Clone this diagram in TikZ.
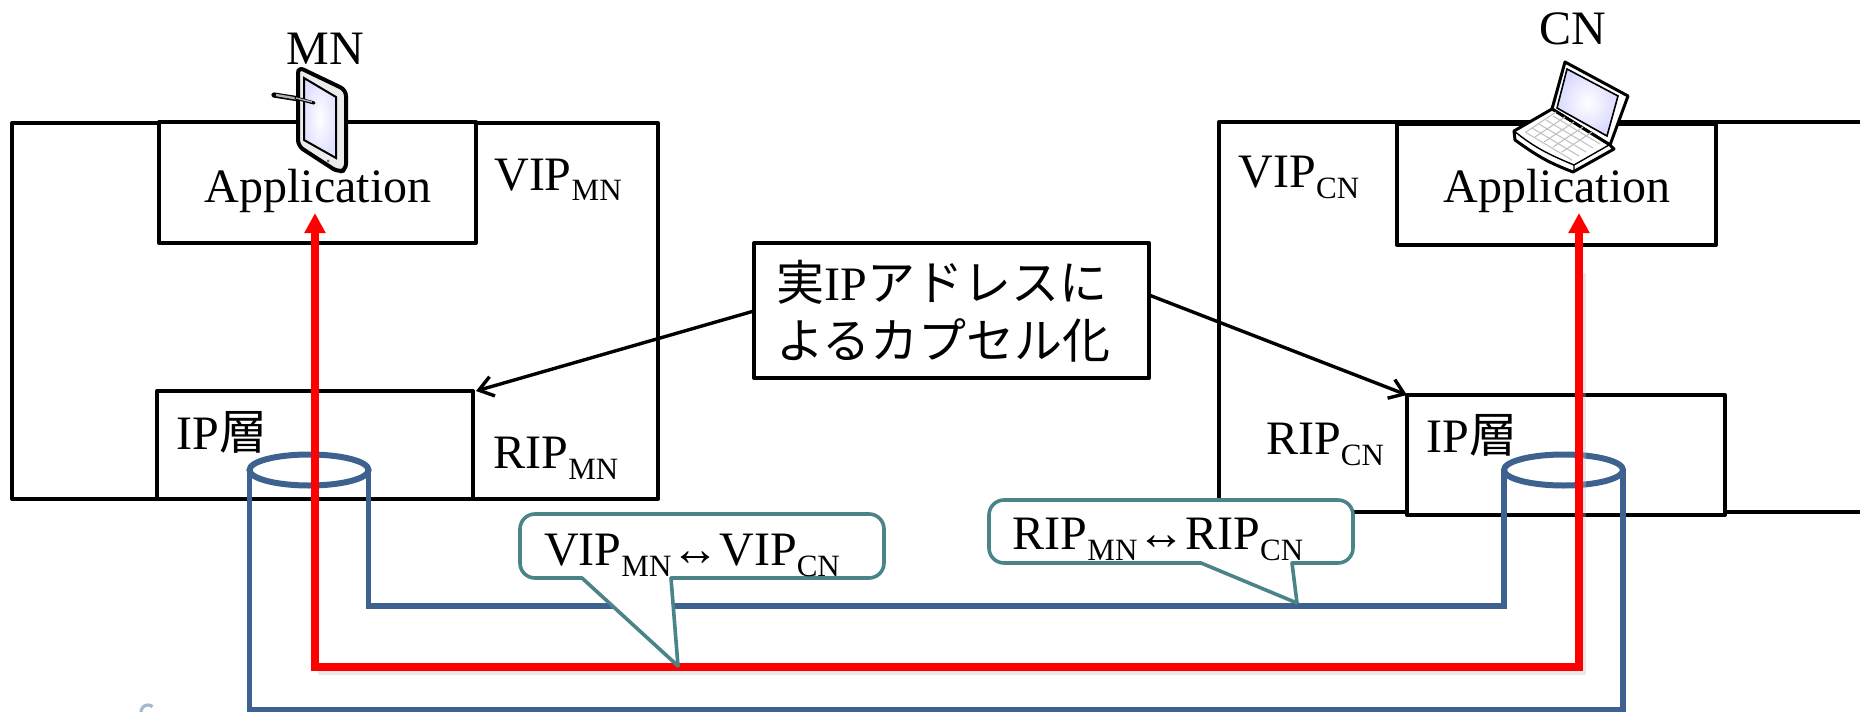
\documentclass[tikz,border=0pt]{standalone}
\usepackage{fontspec}
\setmainfont{Liberation Serif}
\newfontfamily\jp{Noto Sans CJK JP}
\usetikzlibrary{shapes.geometric,arrows.meta,calc}
\definecolor{tunnel}{HTML}{3E6290}
\definecolor{callteal}{HTML}{4A8488}
\tikzset{
  every node/.style={font=\fontsize{24}{28}\selectfont},
  blk/.style={draw=black,line width=2pt,fill=white,inner sep=0pt,outer sep=0pt,line join=round},
  lbl/.style={inner sep=0pt,anchor=base},
  redline/.style={draw=red,line width=3.7pt,line join=miter},
  shadowline/.style={draw=black!25,line width=3pt,opacity=.35},
  blueline/.style={draw=tunnel,line width=2.7pt},
  bluerim/.style={draw=tunnel,line width=3pt,ellipse,inner sep=0pt,outer sep=0pt,minimum width=59.5pt,minimum height=15.5pt},
  callout/.style={draw=callteal,line width=1.8pt,fill=white,line join=round},
  pointer/.style={draw=black,line width=1.7pt,-{Straight Barb[length=7pt,width=10pt,line width=1.7pt]}},
}
\newcommand{\subl}[1]{\raisebox{-5.5pt}{\fontsize{15.5}{16}\selectfont #1}}
\begin{document}
\begin{tikzpicture}[x=0.5pt,y=-0.5pt]
\useasboundingbox (0,0) rectangle (1860,712);
% outer boxes
\node[blk,anchor=north west,minimum width=323pt,minimum height=188pt] (outerL) at (12,123) {};
\coordinate (outerRa) at (1860,122);
\coordinate (outerRb) at (1219,122);
\coordinate (outerRc) at (1219,512);
\coordinate (outerRd) at (1860,512);
\draw[draw=black,line width=2pt,line join=round] (outerRa) -- (outerRb) -- (outerRc) -- (outerRd);
% inner boxes
\node[blk,anchor=north west,minimum width=158.5pt,minimum height=60.5pt] (appL) at (159,122) {};
\node[blk,anchor=north west,minimum width=158pt,minimum height=54pt] (ipL) at (157,391) {};
\node[blk,anchor=north west,minimum width=159.5pt,minimum height=60.5pt] (appR) at (1397,124) {};
\node[blk,anchor=north west,minimum width=159pt,minimum height=60pt] (ipR) at (1407,395) {};
% labels
\node[lbl] (tMN) at (325,64) {MN};
\node[lbl] (tCN) at (1573,45) {CN};
\node[lbl] (tAppL) at (318,202) {Application};
\node[lbl] (tAppR) at (1557,202) {Application};
\node[lbl] (tVL) at (558,190) {VIP\subl{MN}};
\node[lbl] (tVR) at (1299,187) {VIP\subl{CN}};
\node[lbl] (tRL) at (556,468) {RIP\subl{MN}};
\node[lbl] (tRR) at (1325,454) {RIP\subl{CN}};
\node[lbl] (tIL) at (222,449) {IP{\jp 層}};
\node[lbl] (tIR) at (1472,452) {IP{\jp 層}};
% tablet icon
\draw[black,line width=2.6pt,line cap=round] (274,95) -- (299,99);
\draw[gray!60,line width=1.2pt] (276,95) -- (299,99);
\draw[black,line width=2pt,fill=gray!15,rounded corners=3pt,line join=round] (298,67) -- (346,90) -- (346,170) -- (338,172) -- (298,146) -- cycle;
\shade[inner color=white,outer color=blue!12!white] (304,78) -- (336,97) -- (336,158) -- (304,140) -- cycle;
\draw[black,line width=1pt] (304,78) -- (336,97) -- (336,158) -- (304,140) -- cycle;
\draw[black,line width=1.6pt,line cap=round] (296,98) -- (314,103);
\draw[gray!60,line width=.7pt] (296,98) -- (312,102);
\fill[black!60] (328,161) circle (1.5);
% laptop icon
\draw[black,line width=1.5pt,fill=white,line join=round] (1565,62) -- (1628,96) -- (1610,145) -- (1552,109) -- cycle;
\shade[inner color=white,outer color=blue!15!white] (1567,69) -- (1618,96) -- (1607,136) -- (1557,108) -- cycle;
\draw[black,line width=.8pt] (1567,69) -- (1618,96) -- (1607,136) -- (1557,108) -- cycle;
\draw[black,line width=1.5pt,fill=white,line join=round] (1552,109) -- (1514,131) -- (1515,140) .. controls (1540,158) and (1550,163) .. (1573,172) -- (1614,149) -- (1610,145) -- cycle;
\draw[black,line width=.7pt] (1514,131) .. controls (1535,148) and (1550,155) .. (1574,165) -- (1574,172);
\draw[black,line width=.7pt] (1574,165) -- (1609,145);
\foreach \i in {0,...,4}{
  \draw[gray!50,line width=.5pt] ({1553-7*\i},{116+4*\i}) -- ({1600-7*\i},{144+4*\i});
  \draw[gray!50,line width=.5pt] ({1556+9*\i},{112+5*\i}) -- ({1526+9*\i},{132+5*\i});
}
% centre box
\node[blk,anchor=north west,minimum width=197.5pt,minimum height=67.5pt] (mid) at (754,243) {};
\node[inner sep=0pt,align=left,anchor=north west] (tMid) at (776,260) {\jp 実{\rmfamily IP}アドレスに\\[1pt]\jp よるカプセル化};
\draw[pointer] (mid.west |- 0,311) -- (appL.east |- ipL.north);
\draw[pointer] (mid.east |- 0,295) -- (ipR.north west);
% faint remnant at the lower edge
\draw[tunnel!45,line width=1.6pt] (141,712) arc[start angle=180,end angle=310,radius=7];
% tunnel
\node[bluerim] (eL) at (309,470) {};
\node[bluerim] (eR) at (1563.5,470) {};
\draw[blueline] (eL.east) -- ++(0,136) -| (eR.west);
\draw[blueline] (eL.west) -- ++(0,240) -| (eR.east);
% red path
\coordinate (redL) at (315,213);
\coordinate (redR) at (1579,213);
\coordinate (redA) at (315,667);
\coordinate (redB) at (1579,667);
\draw[shadowline] ($(redA)+(3,5)$) -- ($(redB)+(4,5)$) -- ($(redR)+(4,60)$);
\draw[redline,{Triangle[length=10pt,width=10pt]}-{Triangle[length=10pt,width=10pt]}] (redL) -- (redA) -- (redB) -- (redR);
% callouts
\draw[callout] (582,578) -- (535,578) arc[start angle=90,end angle=180,radius=15] -- (520,529) arc[start angle=180,end angle=270,radius=15] -- (869,514) arc[start angle=270,end angle=360,radius=15] -- (884,563) arc[start angle=0,end angle=90,radius=15] -- (671,578) -- (678,666) -- cycle;
\node[lbl] (c1) at (692,565) {VIP\subl{MN}↔VIP\subl{CN}};
\draw[callout] (1201,563) -- (1004,563) arc[start angle=90,end angle=180,radius=15] -- (989,515) arc[start angle=180,end angle=270,radius=15] -- (1338,500) arc[start angle=270,end angle=360,radius=15] -- (1353,548) arc[start angle=0,end angle=90,radius=15] -- (1292,563) -- (1297,603) -- cycle;
\node[lbl] (c2) at (1158,549) {RIP\subl{MN}↔RIP\subl{CN}};
\end{tikzpicture}
\end{document}
